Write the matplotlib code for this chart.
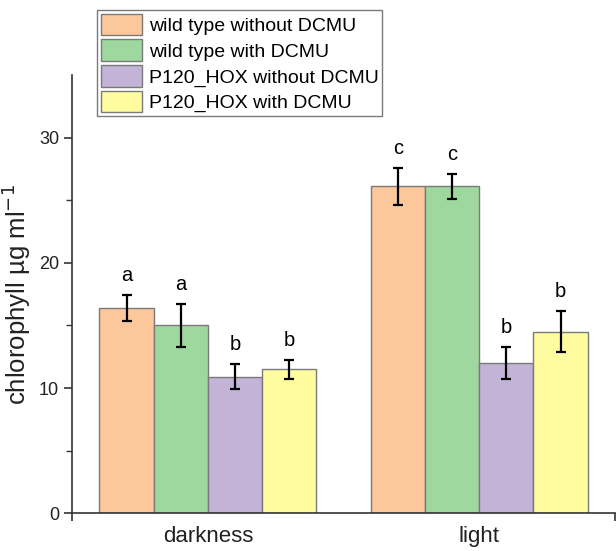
import numpy as np
import matplotlib
matplotlib.use("Agg")
from matplotlib import pyplot as plt

plt.rcParams['font.family'] = ['Liberation Sans', 'DejaVu Sans']

conditions = ["darkness", "light"]
series = ["wild type without DCMU", "wild type with DCMU",
          "P120_HOX without DCMU", "P120_HOX with DCMU"]
means = [[16.4, 26.1],
         [15.0, 26.1],
         [10.9, 12.0],
         [11.5, 14.5]]
errors = [[1.05, 1.5],
          [1.75, 1.0],
          [1.0, 1.25],
          [0.75, 1.65]]
letters = [["a", "c"],
           ["a", "c"],
           ["b", "b"],
           ["b", "b"]]
colors = ["#FCC89B", "#9FD89F", "#C3B3D7", "#FFFCA0"]

fig = plt.figure(figsize=(6.16, 5.51), dpi=100)
ax = fig.add_axes([0.1174, 0.0684, 0.8806, 0.7956])

x = np.arange(len(conditions))
width = 0.2
handles = []
for i, name in enumerate(series):
    pos = x + (i - 1.5) * width
    b = ax.bar(pos, means[i], width, color=colors[i], edgecolor="#7a7a7a",
               linewidth=1.0, label=name, zorder=2)
    handles.append(b)
    ax.errorbar(pos, means[i], yerr=errors[i], fmt="none", ecolor="black",
                elinewidth=1.6, capsize=3.5, capthick=1.6, zorder=3)
    for p, m, e, t in zip(pos, means[i], errors[i], letters[i]):
        ax.annotate(t, (p, m + e), xytext=(0, 10), textcoords="offset points",
                    ha="center", va="baseline", fontsize=14.5)

ax.set_xlim(-0.5, 1.5)
ax.set_ylim(0, 35)
ax.spines["top"].set_visible(False)
ax.spines["right"].set_visible(False)
for s in ["left", "bottom"]:
    ax.spines[s].set_linewidth(1.2)
    ax.spines[s].set_color("#333333")

ax.set_yticks([0, 10, 20, 30])
ax.set_yticks([5, 15, 25], minor=True)
ax.tick_params(axis="y", which="major", direction="out", length=6, width=1.2,
               color="#333333", labelsize=13, labelcolor="#222222")
ax.tick_params(axis="y", which="minor", direction="out", length=4, width=1.0,
               color="#333333")

ax.set_xticks([-0.5, 1.5])
ax.set_xticklabels(["", ""])
ax.tick_params(axis="x", which="major", direction="out", length=6, width=1.2,
               color="#333333")
ax.set_xticks(x, minor=True)
ax.set_xticklabels(conditions, minor=True)
ax.tick_params(axis="x", which="minor", length=0, pad=9, labelsize=16,
               labelcolor="#222222")

ax.set_ylabel("chlorophyll µg ml$^{-1}$", fontsize=18.5, labelpad=4,
              color="#222222")

leg = fig.legend(handles=handles, loc="upper left",
                 bbox_to_anchor=(97 / 616, 1 - 10 / 551), fontsize=14,
                 handlelength=2.15, handleheight=1.35, labelspacing=0.2,
                 handletextpad=0.35, borderpad=0.18, borderaxespad=0,
                 fancybox=False, framealpha=1, edgecolor="#7a7a7a")
leg.get_frame().set_linewidth(1.0)

fig.savefig("out.png", dpi=100)
